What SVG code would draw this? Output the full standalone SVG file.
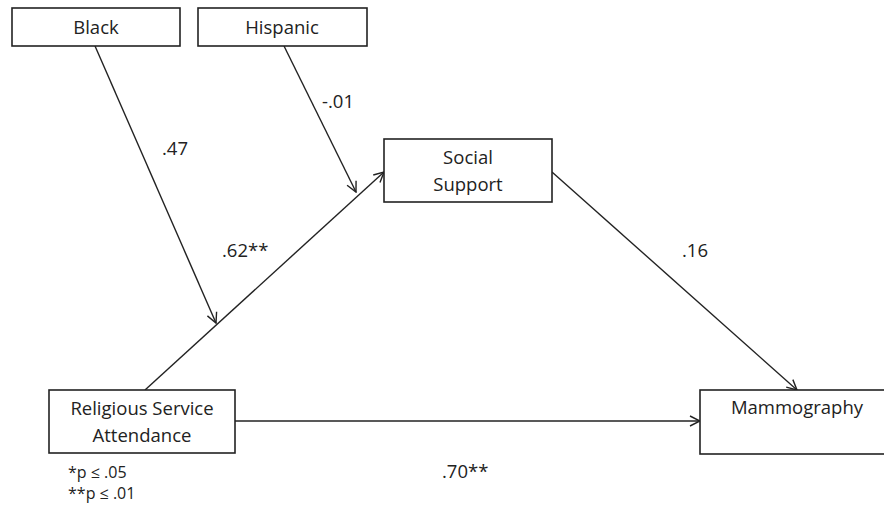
<svg xmlns="http://www.w3.org/2000/svg" width="884" height="512" viewBox="0 0 884 512">
<defs>
<marker id="arr" viewBox="0 0 12 12" refX="11" refY="6" markerWidth="12" markerHeight="12" markerUnits="userSpaceOnUse" orient="auto">
<path d="M1,1 L11,6 L1,11" fill="none" stroke="#222" stroke-width="1.4"/>
</marker>
<style>
.box{fill:#fff;stroke:#222;stroke-width:1.6}
.t{font-family:"Open Sans","Liberation Sans",sans-serif;font-size:18.5px;fill:#222;text-anchor:middle}
.l{font-family:"Open Sans","Liberation Sans",sans-serif;font-size:18.5px;fill:#222}
.n{font-family:"Open Sans","Liberation Sans",sans-serif;font-size:16px;fill:#222}
.e{stroke:#222;stroke-width:1.4;fill:none;marker-end:url(#arr)}
</style>
</defs>
<rect width="884" height="512" fill="#fff"/>
<g id="connectors">
<line class="e" x1="95" y1="46" x2="216" y2="323"/>
<line class="e" x1="284" y1="46" x2="356" y2="192"/>
<line class="e" x1="145" y1="390" x2="384" y2="172"/>
<line class="e" x1="552" y1="172" x2="797" y2="390"/>
<line class="e" x1="235" y1="421" x2="700" y2="421"/>
</g>
<g id="black"><rect class="box" x="12" y="8" width="168" height="38"/><text class="t" x="96" y="34">Black</text></g>
<g id="hispanic"><rect class="box" x="198" y="8" width="169" height="38"/><text class="t" x="282" y="34">Hispanic</text></g>
<g id="social"><rect class="box" x="384" y="139" width="168" height="63"/><text class="t" x="468" y="164">Social</text><text class="t" x="468" y="191">Support</text></g>
<g id="religious"><rect class="box" x="49" y="390" width="186" height="63"/><text class="t" x="142" y="415">Religious Service</text><text class="t" x="142" y="442">Attendance</text></g>
<g id="mammography"><rect class="box" x="700" y="390" width="200" height="64"/><text class="t" x="797" y="414">Mammography</text></g>
<g id="labels">
<text class="l" x="162" y="155">.47</text>
<text class="l" x="322" y="108">-.01</text>
<text class="l" x="222" y="257">.62**</text>
<text class="l" x="682" y="257">.16</text>
<text class="l" x="442" y="478">.70**</text>
<text class="n" x="68" y="478">*p ≤ .05</text>
<text class="n" x="68" y="499">**p ≤ .01</text>
</g>
</svg>
